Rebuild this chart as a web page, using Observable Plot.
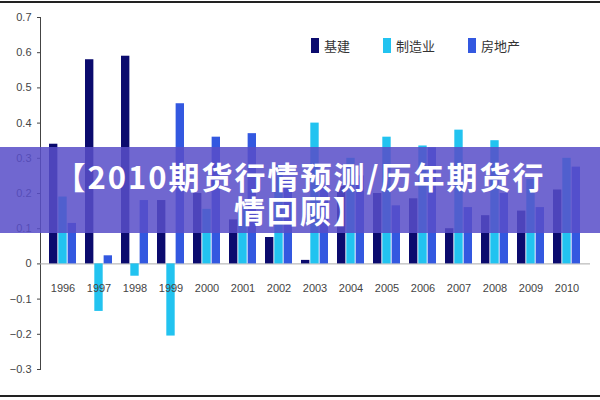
<!DOCTYPE html>
<html>
<head>
<meta charset="utf-8">
<script src="https://cdn.jsdelivr.net/npm/d3@7"></script>
<script src="https://cdn.jsdelivr.net/npm/@observablehq/plot@0.6"></script>
<style>
  html, body { margin: 0; padding: 0; background: #fff; }
  #wrap { position: relative; width: 600px; height: 400px; overflow: hidden; background: #fff; font-family: "Liberation Sans Narrow", "Liberation Sans", Arial, sans-serif; }
  #wrap svg { position: absolute; left: 0; top: 0; }
  .edge { position: absolute; left: 0; width: 600px; height: 2px; background: #222; }
  #legend { position: absolute; top: 36px; left: 311px; display: flex; font-family: "Noto Sans CJK SC", sans-serif; font-size: 13px; color: #333; }
  #legend .item { display: flex; align-items: center; margin-right: 33px; }
  #legend .sw { width: 8px; height: 15px; margin-right: 5px; }
  #banner { position: absolute; left: 0; top: 147px; width: 600px; height: 86px; background: rgba(88, 78, 200, 0.86);
    color: #fff; font-family: "Noto Sans CJK SC", sans-serif; font-weight: 700; font-size: 31px; line-height: 34px;
    text-align: center; box-sizing: border-box; padding: 12px 42px 0 42px; letter-spacing: 2px; }
</style>
</head>
<body>
<div id="wrap">
  <div id="chart"></div>
  <div id="legend"></div>
  <div id="banner">【2010期货行情预测/历年期货行情回顾】</div>
  <div class="edge" style="top:1px"></div>
  <div class="edge" style="top:395px"></div>
</div>
<script>
const years = ["1996","1997","1998","1999","2000","2001","2002","2003","2004","2005","2006","2007","2008","2009","2010"];
const seriesNames = ["基建", "制造业", "房地产"];
const seriesColors = ["#0b0b6e", "#22c3f0", "#3358e0"];
const jijian   = [0.34, 0.58, 0.59, 0.18, 0.20, 0.125, 0.075, 0.01, 0.22, 0.20, 0.185, 0.10, 0.137, 0.15, 0.21];
const zhizao   = [0.19, -0.135, -0.035, -0.205, 0.155, 0.16, 0.28, 0.40, 0.30, 0.36, 0.335, 0.38, 0.35, 0.24, 0.30];
const fangdi   = [0.115, 0.023, 0.18, 0.455, 0.36, 0.37, 0.24, 0.22, 0.25, 0.165, 0.33, 0.16, 0.20, 0.16, 0.275];
const yTicks = [-0.3, -0.2, -0.1, 0, 0.1, 0.2, 0.3, 0.4, 0.5, 0.6, 0.7];

const seriesValues = [jijian, zhizao, fangdi];
const width = 600, height = 400, mL = 40, mR = 10, mT = 17, mB = 31;
const xOpts = {type: "band", domain: years, paddingInner: 0.24, paddingOuter: 0.1};
const xs = Plot.scale({x: {...xOpts, range: [mL, width - mR]}});
const w = xs.bandwidth / 3;

const barMarks = seriesValues.map((vals, i) =>
  Plot.barY(years.map((y, j) => ({year: y, value: vals[j]})), {
    x: "year", y: "value", fill: seriesColors[i],
    insetLeft: i * w, insetRight: (2 - i) * w
  })
);

const chart = Plot.plot({
  width, height,
  marginLeft: mL, marginRight: mR, marginTop: mT, marginBottom: mB,
  style: {fontFamily: "'Liberation Sans Narrow', 'Liberation Sans', Arial, sans-serif", fontSize: "11px", color: "#444", background: "transparent"},
  x: {...xOpts, axis: null},
  y: {domain: [-0.3, 0.7], ticks: yTicks, tickFormat: d => d === 0 ? "0" : d3.format(".1f")(d), tickSize: 3, tickPadding: 6, line: true, label: null},
  marks: [
    Plot.ruleY([0], {stroke: "#aaa", strokeWidth: 1}),
    ...barMarks,
    Plot.text(years, {x: d => d, y: () => 0, dy: 25, text: d => d, fill: "#444", fontSize: 11})
  ]
});
document.getElementById("chart").appendChild(chart);

const legend = document.getElementById("legend");
seriesNames.forEach((n, i) => {
  const it = document.createElement("div");
  it.className = "item";
  it.innerHTML = `<span class="sw" style="background:${seriesColors[i]}"></span><span>${n}</span>`;
  legend.appendChild(it);
});
</script>
</body>
</html>
